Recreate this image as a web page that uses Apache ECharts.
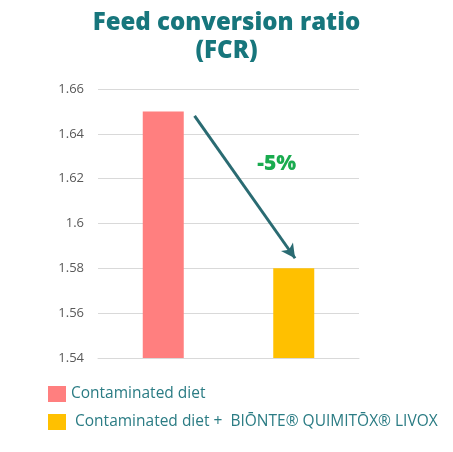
<!DOCTYPE html>
<html>
<head>
<meta charset="utf-8">
<script src="https://cdn.jsdelivr.net/npm/echarts@6/dist/echarts.min.js"></script>
<style>
  html, body { margin: 0; padding: 0; background: #fff; }
  #main { width: 453px; height: 452px; }
</style>
</head>
<body>
<div id="main"></div>
<script>
// data
var categories = ['Contaminated diet', 'Contaminated diet + BIŌNTE® QUIMITŌX® LIVOX'];
var seriesNames = ['Contaminated diet', ' Contaminated diet +  BIŌNTE® QUIMITŌX® LIVOX'];
var fcrControl = [1.65, null];
var fcrTreated = [null, 1.58];
var yTicks = { min: 1.54, max: 1.66, step: 0.02 };
// arrow and label, in data units (x = category index)
var arrowFrom = [0.24, 1.648];
var arrowTo = [1.01, 1.5845];
var changeLabel = '-5%';
var changeAt = [0.87, 1.6265];

var chart = echarts.init(document.getElementById('main'));

var option = {
	animation: false,
	title: {
		text: 'Feed conversion ratio\n(FCR)',
		left: 'center',
		top: 4,
		textStyle: {
			fontFamily: 'Open Sans',
			fontWeight: 800,
			fontSize: 24,
			lineHeight: 28,
			color: '#17767c'
		}
	},
	legend: {
		orient: 'vertical',
		left: 48,
		top: 386,
		padding: 0,
		itemWidth: 18,
		itemHeight: 16,
		itemGap: 12,
		icon: 'rect',
		data: seriesNames,
		textStyle: {
			fontFamily: 'Open Sans',
			fontSize: 15.5,
			color: '#2b7c84'
		}
	},
	grid: { left: 98, right: 94, top: 89, bottom: 94 },
	xAxis: [{
		type: 'category',
		data: categories,
		axisLine: { lineStyle: { color: '#d9d9d9' } },
		axisTick: { show: false },
		axisLabel: { show: false }
	}, {
		// hidden helper axis for the annotation
		type: 'value',
		min: -0.5,
		max: 1.5,
		show: false
	}],
	yAxis: {
		type: 'value',
		min: yTicks.min,
		max: yTicks.max,
		interval: yTicks.step,
		axisLine: { show: false },
		axisTick: { show: false },
		axisLabel: {
			fontFamily: 'Open Sans',
			fontSize: 13,
			color: '#595959',
			margin: 14
		},
		splitLine: { lineStyle: { color: '#d9d9d9' } }
	},
	series: [{
		name: seriesNames[0],
		type: 'bar',
		data: fcrControl,
		barWidth: 41,
		barGap: '-100%',
		itemStyle: { color: '#ff7f7f' }
	}, {
		name: seriesNames[1],
		type: 'bar',
		data: fcrTreated,
		barWidth: 41,
		barGap: '-100%',
		itemStyle: { color: '#ffc000' }
	}, {
		name: 'annotation',
		type: 'line',
		xAxisIndex: 1,
		data: [arrowFrom, arrowTo],
		symbol: 'none',
		lineStyle: { width: 0, opacity: 0 },
		silent: true,
		markLine: {
			silent: true,
			symbol: ['none', 'arrow'],
			symbolSize: [11, 14],
			lineStyle: { color: '#2a6b72', width: 3, type: 'solid' },
			label: { show: false },
			data: [[{ coord: arrowFrom }, { coord: arrowTo }]]
		},
		markPoint: {
			silent: true,
			symbol: 'circle',
			symbolSize: 0,
			label: {
				show: true,
				position: 'inside',
				formatter: changeLabel,
				fontFamily: 'Open Sans',
				fontWeight: 800,
				fontSize: 21,
				color: '#1aab4f'
			},
			data: [{ coord: changeAt }]
		}
	}]
};

chart.setOption(option);
</script>
</body>
</html>
